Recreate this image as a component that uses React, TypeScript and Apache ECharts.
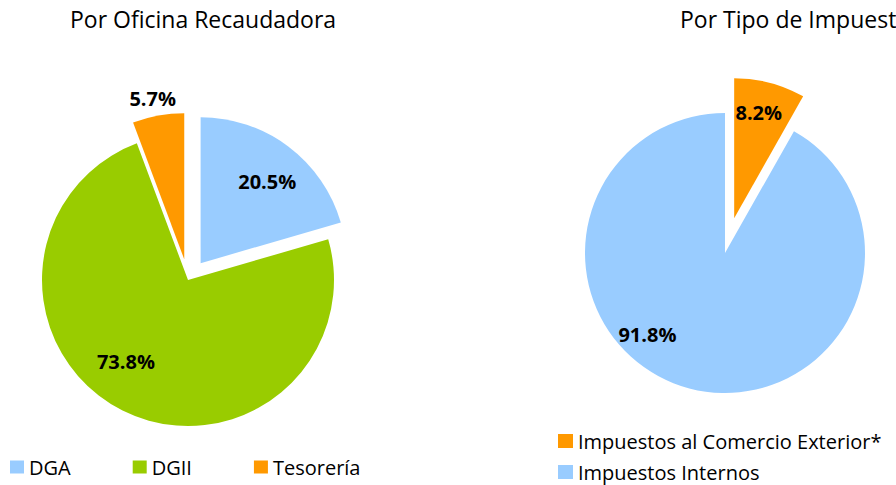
import React, { useEffect, useRef } from "react";
import * as echarts from "echarts";

// Data
const oficinaCategories = ["DGA", "DGII", "Tesorería"];
const oficinaValues = [20.5, 73.8, 5.7];
const oficinaExploded = [true, false, true];

const tipoCategories = ["Impuestos al Comercio Exterior*", "Impuestos Internos"];
const tipoValues = [8.2, 91.8];
const tipoExploded = [true, false];

const titles = ["Por Oficina Recaudadora", "Por Tipo de Impuesto"];

// Styling / layout
const COLORS: Record<string, string> = {
  DGA: "#99CCFF",
  DGII: "#99CC00",
  "Tesorería": "#FF9900",
  "Impuestos al Comercio Exterior*": "#FF9900",
  "Impuestos Internos": "#99CCFF",
};
const leftLabelShift = [
  [21, -21],
  [-28, 14],
  [-18, -86],
];
const rightLabelShift = [
  [6, -35],
  [-59, 11],
];

const FONT = "'Open Sans', 'Noto Sans', sans-serif";

export default function App() {
  const ref = useRef<HTMLDivElement>(null);

  useEffect(() => {
    if (!ref.current) return;
    const chart = echarts.init(ref.current, null, { renderer: "svg" });

    const labelStyle = {
      show: true,
      position: "inside",
      formatter: (p: any) => Number(p.value).toFixed(1) + "%",
      fontFamily: FONT,
      fontSize: 20,
      fontWeight: "bold",
      color: "#000",
    };

    chart.setOption({
      animation: false,
      backgroundColor: "#fff",
      title: [
        {
          text: titles[0],
          left: 65,
          top: 2,
          textStyle: { fontFamily: FONT, fontSize: 23, fontWeight: "normal", color: "#000" },
        },
        {
          text: titles[1],
          left: 675,
          top: 2,
          textStyle: { fontFamily: FONT, fontSize: 23, fontWeight: "normal", color: "#000" },
        },
      ],
      legend: [
        {
          data: oficinaCategories,
          orient: "horizontal",
          left: 10,
          top: 457,
          padding: 0,
          itemWidth: 14,
          itemHeight: 13,
          itemGap: 62,
          icon: "rect",
          selectedMode: false,
          textStyle: { fontFamily: FONT, fontSize: 20, color: "#000" },
        },
        {
          data: tipoCategories,
          orient: "vertical",
          left: 558,
          top: 431,
          height: 54,
          padding: 0,
          itemWidth: 15,
          itemHeight: 14,
          itemGap: 11,
          icon: "rect",
          selectedMode: false,
          textStyle: { fontFamily: FONT, fontSize: 20, color: "#000" },
        },
      ],
      series: [
        {
          type: "pie",
          center: [188, 280],
          radius: [0, 146],
          startAngle: 90,
          clockwise: true,
          selectedMode: "multiple",
          selectedOffset: 21,
          silent: true,
          emphasis: { disabled: true },
          label: labelStyle,
          labelLine: { show: false },
          labelLayout: (p: any) => ({
            dx: leftLabelShift[p.dataIndex][0],
            dy: leftLabelShift[p.dataIndex][1],
          }),
          data: oficinaCategories.map((c, i) => ({
            name: c,
            value: oficinaValues[i],
            selected: oficinaExploded[i],
            itemStyle: { color: COLORS[c] },
          })),
        },
        {
          type: "pie",
          center: [725, 253],
          radius: [0, 140],
          startAngle: 90,
          clockwise: true,
          selectedMode: "multiple",
          selectedOffset: 36,
          silent: true,
          emphasis: { disabled: true },
          label: labelStyle,
          labelLine: { show: false },
          labelLayout: (p: any) => ({
            dx: rightLabelShift[p.dataIndex][0],
            dy: rightLabelShift[p.dataIndex][1],
          }),
          data: tipoCategories.map((c, i) => ({
            name: c,
            value: tipoValues[i],
            selected: tipoExploded[i],
            itemStyle: { color: COLORS[c] },
          })),
        },
      ],
    });

    return () => chart.dispose();
  }, []);

  return (
    <div
      ref={ref}
      style={{ position: "fixed", left: 0, top: 0, width: 896, height: 485, background: "#fff" }}
    />
  );
}
